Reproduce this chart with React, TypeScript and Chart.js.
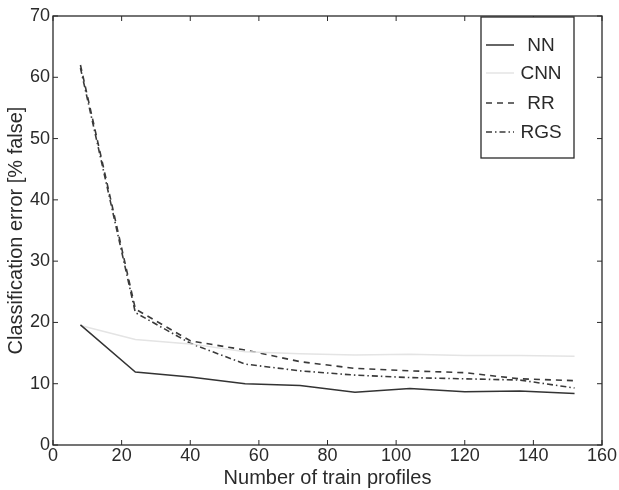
import React, { useEffect, useRef } from "react";
import { Chart, registerables } from "chart.js";

Chart.register(...registerables);

const trainProfiles = [8, 24, 40, 56, 72, 88, 104, 120, 136, 152];
const nnError = [19.6, 11.9, 11.1, 10.0, 9.7, 8.6, 9.2, 8.7, 8.8, 8.4];
const cnnError = [19.5, 17.2, 16.5, 15.2, 14.9, 14.7, 14.8, 14.6, 14.6, 14.5];
const rrError = [62.0, 22.2, 17.0, 15.5, 13.6, 12.5, 12.1, 11.8, 10.8, 10.5];
const rgsError = [61.5, 21.6, 16.6, 13.2, 12.1, 11.4, 11.0, 10.8, 10.6, 9.3];
const seriesLabels = ["NN", "CNN", "RR", "RGS"];
const xTicks = [0, 20, 40, 60, 80, 100, 120, 140, 160];
const yTicks = [0, 10, 20, 30, 40, 50, 60, 70];

const FONT = "'Liberation Sans', Arial, Helvetica, sans-serif";
const INK = "#2a2a2a";

const toPoints = (ys: number[]) => ys.map((v, i) => ({ x: trainProfiles[i], y: v }));

const framePlugin = {
  id: "matlabFrame",
  afterDatasetsDraw(chart: any) {
    const { ctx, chartArea, scales } = chart;
    const { left, right, top, bottom } = chartArea;
    const x = scales.x;
    const y = scales.y;
    ctx.save();
    ctx.strokeStyle = INK;
    ctx.lineWidth = 1.3;
    ctx.strokeRect(left, top, right - left, bottom - top);
    const seg = (x1: number, y1: number, x2: number, y2: number) => {
      ctx.beginPath();
      ctx.moveTo(x1, y1);
      ctx.lineTo(x2, y2);
      ctx.stroke();
    };
    ctx.lineWidth = 1;
    x.ticks.forEach((t: any) => {
      const px = x.getPixelForValue(t.value);
      seg(px, bottom, px, bottom - 5);
      seg(px, top, px, top + 5);
    });
    y.ticks.forEach((t: any) => {
      const py = y.getPixelForValue(t.value);
      seg(left, py, left + 5, py);
      seg(right, py, right - 5, py);
    });

    // legend box
    const bx = 481, by = 17, bw = 93, bh = 141;
    ctx.fillStyle = "#ffffff";
    ctx.fillRect(bx, by, bw, bh);
    ctx.strokeStyle = INK;
    ctx.lineWidth = 1.3;
    ctx.strokeRect(bx, by, bw, bh);
    const rows = [45, 73, 103, 132];
    chart.data.datasets.forEach((ds: any, i: number) => {
      const ry = rows[i];
      ctx.save();
      ctx.strokeStyle = ds.borderColor;
      ctx.lineWidth = ds.borderWidth;
      ctx.setLineDash(ds.borderDash || []);
      seg(486, ry, 514, ry);
      ctx.restore();
      ctx.fillStyle = INK;
      ctx.font = `19px ${FONT}`;
      ctx.textAlign = "center";
      ctx.textBaseline = "middle";
      ctx.fillText(ds.label, 541, ry + 1);
    });
    ctx.restore();
  },
};

export default function App() {
  const canvasRef = useRef<HTMLCanvasElement | null>(null);

  useEffect(() => {
    document.body.style.margin = "0";
    const canvas = canvasRef.current;
    if (!canvas) return;
    const chart = new Chart(canvas, {
      type: "line",
      data: {
        datasets: [
          {
            label: seriesLabels[0],
            data: toPoints(nnError),
            borderColor: "#333333",
            borderWidth: 1.5,
            pointRadius: 0,
            tension: 0,
          },
          {
            label: seriesLabels[1],
            data: toPoints(cnnError),
            borderColor: "#e4e4e4",
            borderWidth: 1.5,
            pointRadius: 0,
            tension: 0,
          },
          {
            label: seriesLabels[2],
            data: toPoints(rrError),
            borderColor: "#3a3a3a",
            borderWidth: 1.6,
            borderDash: [6, 5],
            pointRadius: 0,
            tension: 0,
          },
          {
            label: seriesLabels[3],
            data: toPoints(rgsError),
            borderColor: "#3a3a3a",
            borderWidth: 1.6,
            borderDash: [6, 3, 1.5, 3],
            pointRadius: 0,
            tension: 0,
          },
        ],
      },
      options: {
        animation: false,
        responsive: true,
        maintainAspectRatio: false,
        layout: { padding: { top: 16, right: 17, left: 0, bottom: 0 } },
        plugins: {
          legend: { display: false },
          tooltip: { enabled: false },
        },
        scales: {
          x: {
            type: "linear",
            min: 0,
            max: 160,
            afterBuildTicks: (scale: any) => {
              scale.ticks = xTicks.map((v) => ({ value: v }));
            },
            afterFit: (scale: any) => {
              scale.height = 45;
            },
            grid: { display: false, drawTicks: false },
            border: { display: false },
            ticks: {
              padding: 0,
              color: INK,
              font: { family: FONT, size: 18 },
              maxRotation: 0,
            },
            title: {
              display: true,
              text: "Number of train profiles",
              color: INK,
              font: { family: FONT, size: 20 },
              padding: { top: 0, bottom: 0 },
            },
          },
          y: {
            type: "linear",
            min: 0,
            max: 70,
            afterBuildTicks: (scale: any) => {
              scale.ticks = yTicks.map((v) => ({ value: v }));
            },
            afterFit: (scale: any) => {
              scale.width = 53;
            },
            grid: { display: false, drawTicks: false },
            border: { display: false },
            ticks: {
              padding: 3,
              color: INK,
              font: { family: FONT, size: 18 },
            },
            title: {
              display: true,
              text: "Classification error [% false]",
              color: INK,
              font: { family: FONT, size: 20 },
              padding: { top: 4, bottom: 0 },
            },
          },
        },
      },
      plugins: [framePlugin],
    } as any);
    return () => chart.destroy();
  }, []);

  return (
    <div style={{ width: 619, height: 490, position: "relative", background: "#fff" }}>
      <canvas ref={canvasRef} />
    </div>
  );
}
